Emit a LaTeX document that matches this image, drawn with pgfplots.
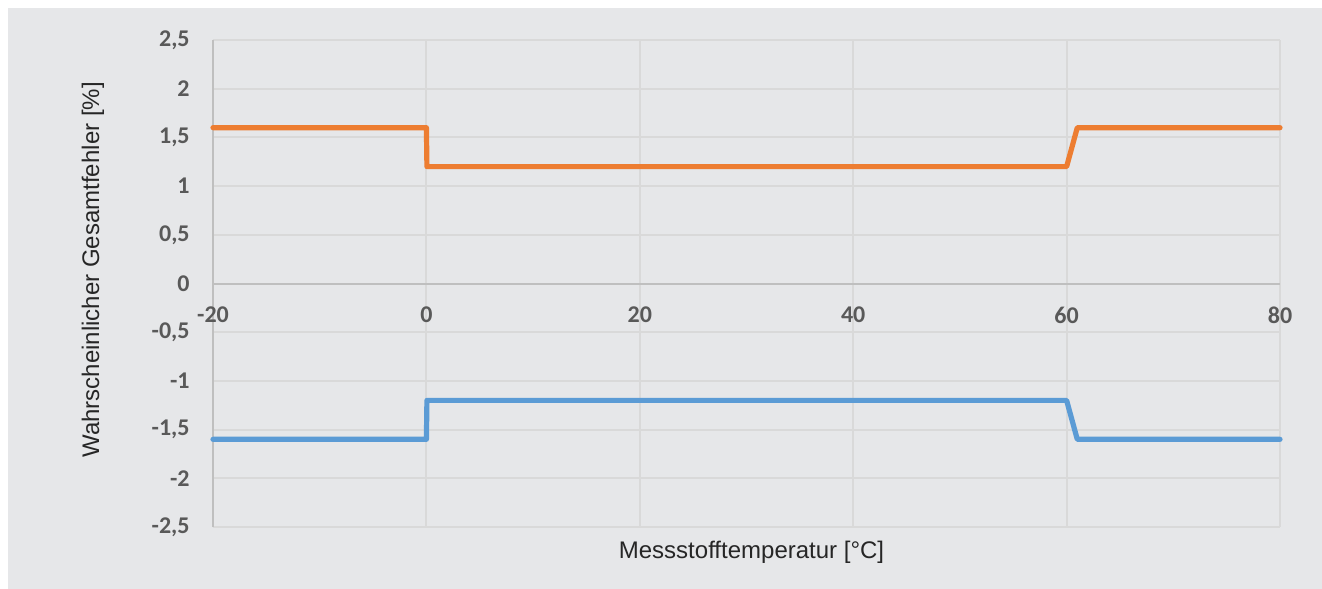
\documentclass[border=0pt]{standalone}
\usepackage{pgfplots}
\pgfplotsset{compat=1.18}
\usepackage{fontspec}
\setmainfont{Liberation Sans}
\newfontfamily\calibri{Carlito}

\definecolor{panel}{HTML}{E6E7E9}
\definecolor{gridc}{HTML}{D9D9D9}
\definecolor{axisc}{HTML}{BFBFBF}
\definecolor{tickc}{HTML}{595959}
\definecolor{labc}{HTML}{262626}
\definecolor{orangeS}{HTML}{ED7D31}
\definecolor{blueS}{HTML}{5B9BD5}

\begin{document}
\begin{tikzpicture}
  % page and chart panel
  \fill[white] (-106.5bp,-31bp) rectangle (554.5bp,263.5bp);
  \fill[panel] (-102.5bp,-31bp) rectangle (554.5bp,259.5bp);
  \begin{axis}[%
      scale only axis,
      width=533.5bp, height=243.5bp,
      xmin=-20, xmax=80, ymin=-2.5, ymax=2.5,
      axis x line=middle, axis y line=left,
      hide obscured x ticks=false,
      hide obscured y ticks=false,
      x axis line style={-, axisc, line width=1bp},
      y axis line style={-, axisc, line width=1bp},
      major tick length=0pt,
      grid=major,
      major grid style={gridc, line width=1bp},
      xtick={-20,0,20,40,60,80},
      xticklabels={-20,0,20,40,60,80},
      ytick={-2.5,-2,-1.5,-1,-0.5,0,0.5,1,1.5,2,2.5},
      yticklabels={{-2,5},{-2},{-1,5},{-1},{-0,5},{0},{0,5},{1},{1,5},{2},{2,5}},
      ticklabel style={font=\calibri\bfseries\fontsize{12bp}{14bp}\selectfont, text=tickc, inner sep=0pt},
      xticklabel style={anchor=north, yshift=-11.5bp},
      yticklabel style={anchor=east, xshift=-11.5bp},
      xlabel={Messstofftemperatur [°C]},
      ylabel={Wahrscheinlicher Gesamtfehler [\%]},
      label style={font=\fontsize{12bp}{14bp}\selectfont, text=labc},
      xlabel style={at={(axis description cs:0.5047,0)}, anchor=center, yshift=-12.5bp},
      ylabel style={at={(axis description cs:-0.1125,0.528)}, anchor=center, rotate=0},
      clip=false,
      every axis plot/.append style={line width=2.6bp, line cap=round, line join=round},
    ]
    \addplot[orangeS] coordinates {
        (-20,1.6) (0,1.6) (0.05,1.2) (60,1.2) (61,1.6) (80,1.6)
      };
    \addplot[blueS] coordinates {
        (-20,-1.6) (0,-1.6) (0.05,-1.2) (60,-1.2) (61,-1.6) (80,-1.6)
      };
  \end{axis}
\end{tikzpicture}
\end{document}
